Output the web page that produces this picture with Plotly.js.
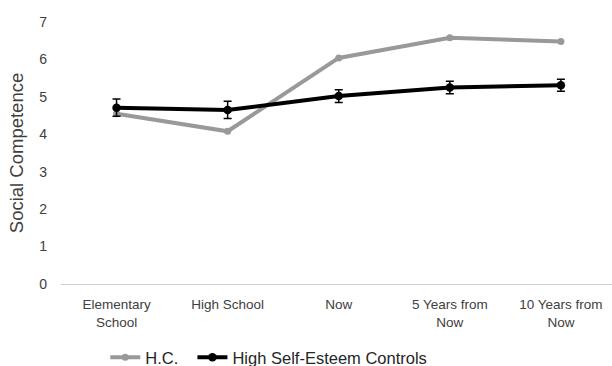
<!DOCTYPE html>
<html>
<head>
<meta charset="utf-8">
<script src="https://cdn.plot.ly/plotly-3.0.1.min.js"></script>
<style>html,body{margin:0;padding:0;background:#fff;}#chart{width:612px;height:366px;}</style>
</head>
<body>
<div id="chart"></div>
<script>
var categories = ["Elementary<br>School", "High School", "Now", "5 Years from<br>Now", "10 Years from<br>Now"];
var hcValues = [4.55, 4.08, 6.04, 6.58, 6.48];
var hseValues = [4.71, 4.65, 5.02, 5.25, 5.31];
var hseErrors = [0.23, 0.23, 0.17, 0.17, 0.16];
var yTicks = [0, 1, 2, 3, 4, 5, 6, 7];

var traces = [
  {
    x: categories, y: hcValues, name: "H.C.&nbsp;&nbsp;", type: "scatter", mode: "lines+markers",
    line: {color: "#999999", width: 4}, marker: {color: "#999999", size: 7}
  },
  {
    x: categories, y: hseValues, name: "High Self-Esteem Controls", type: "scatter", mode: "lines+markers",
    line: {color: "#000000", width: 4}, marker: {color: "#000000", size: 8.5},
    error_y: {type: "data", array: hseErrors, visible: true, color: "#000000", thickness: 1.5, width: 4}
  }
];

var layout = {
  width: 612, height: 366,
  margin: {l: 61, r: 0, t: 22, b: 82},
  paper_bgcolor: "#ffffff", plot_bgcolor: "#ffffff",
  font: {family: "Liberation Sans, Arial, sans-serif", color: "#404040", size: 13.5},
  showlegend: true,
  legend: {orientation: "h", xref: "container", yref: "container", x: 0.172, xanchor: "left", y: 0.0230, yanchor: "middle",
           font: {size: 16.5, color: "#262626"}, itemwidth: 30},
  xaxis: {
    type: "category", range: [-0.5, 4.46], showgrid: false, zeroline: false,
    showline: true, linecolor: "#d0d0d0", linewidth: 1, ticks: "", ticklabelstandoff: 8,
    tickfont: {size: 13.5, color: "#404040"}
  },
  yaxis: {
    range: [0, 7], tickvals: yTicks, showgrid: false, zeroline: false, showline: false,
    ticks: "", ticklabelstandoff: 13, tickfont: {size: 14, color: "#404040"},
    title: {text: "Social Competence", font: {size: 18.5, color: "#404040"}, standoff: 10}
  }
};

Plotly.newPlot("chart", traces, layout, {displayModeBar: false, staticPlot: true});
</script>
</body>
</html>
